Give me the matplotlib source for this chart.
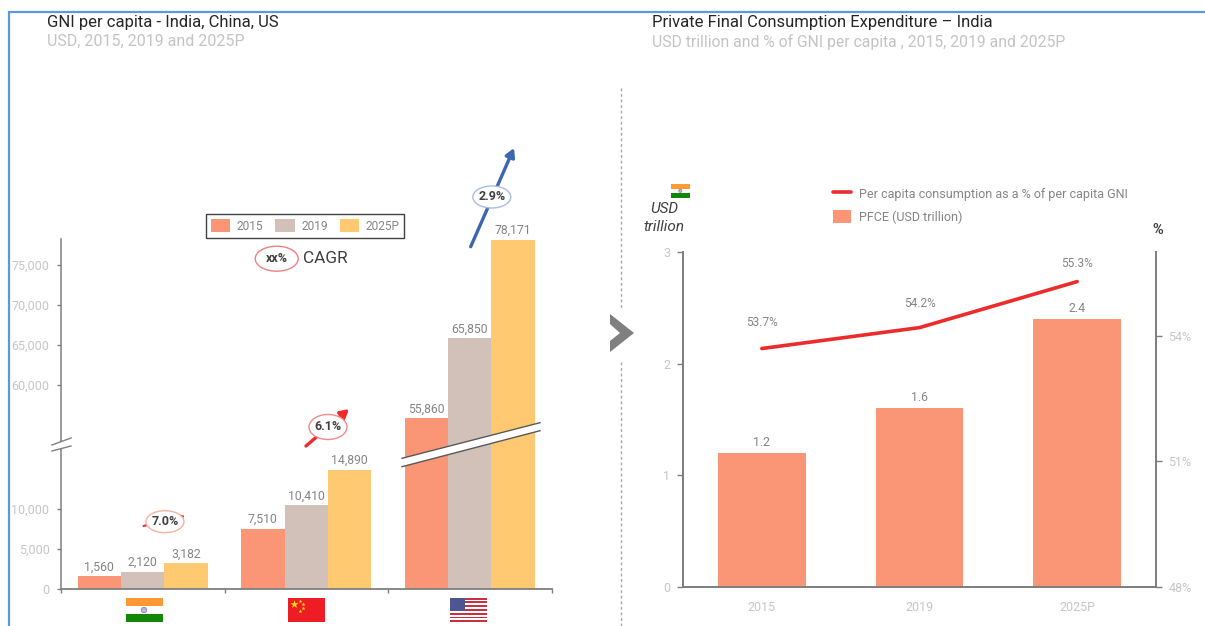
import matplotlib
matplotlib.use('Agg')
import matplotlib.pyplot as plt
from matplotlib.patches import Ellipse, Polygon, Rectangle, Circle

plt.rcParams['font.family'] = ['Roboto', 'DejaVu Sans']

W, H = 1205, 626

# left chart
countries = ['India', 'China', 'US']
years = ['2015', '2019', '2025P']
gni_2015 = [1560, 7510, 55860]
gni_2019 = [2120, 10410, 65850]
gni_2025 = [3182, 14890, 78171]
low_ticks = [0, 5000, 10000]
high_ticks = [60000, 65000, 70000, 75000]

# right chart
pfce_years = ['2015', '2019', '2025P']
pfce = [1.2, 1.6, 2.4]
share = [53.7, 54.2, 55.3]
pfce_ticks = [0, 1, 2, 3]
share_ticks = [48, 51, 54]

SALMON = '#fa9575'
TAUPE = '#d1c1b8'
GOLD = '#ffc971'
RED = '#ee2b2b'
BLUE = '#3c66b1'
AXIS = '#7f7f7f'
TICK = '#c6c6c6'
LABEL = '#858585'


def px_axes(left, top, right, bottom):
    return fig.add_axes([left / W, 1 - bottom / H, (right - left) / W, (bottom - top) / H])


fig = plt.figure(figsize=(W / 100, H / 100), dpi=100, facecolor='white')

# ---- left chart, broken y axis made of two stacked axes
ax_low = px_axes(61, 441, 551.5, 588.7)
ax_high = px_axes(61, 239, 551.5, 441)
ax_low.set_ylim(0, 18460)
ax_high.set_ylim(53000, 78250)

width = 0.265
series = [gni_2015, gni_2019, gni_2025]
colors = [SALMON, TAUPE, GOLD]
handles = []
for i, vals in enumerate(series):
    xs = [k + (i - 1) * width for k in range(len(countries))]
    bars = ax_low.bar(xs, vals, width, color=colors[i], label=years[i])
    handles.append(bars)
    ax_low.bar_label(bars, labels=[f'{v:,}' if v < 20000 else '' for v in vals],
                     padding=2, fontsize=8.8, color=LABEL)
    bars = ax_high.bar(xs, vals, width, color=colors[i])
    ax_high.bar_label(bars, labels=[f'{v:,}' if v > 20000 else '' for v in vals],
                      padding=2, fontsize=8.8, color=LABEL)

for ax in (ax_low, ax_high):
    ax.set_xlim(-0.5, 2.5)
    ax.patch.set_alpha(0)
    ax.spines[['top', 'right']].set_visible(False)
    ax.spines['left'].set_color(AXIS)
    ax.spines['left'].set_linewidth(1.1)
    ax.tick_params(axis='y', length=3, width=1, color=AXIS, labelcolor=TICK, labelsize=9, pad=5.3)
ax_high.spines['bottom'].set_visible(False)
ax_high.set_xticks([])
ax_high.set_yticks(high_ticks)
ax_high.set_yticklabels([f'{t:,}' for t in high_ticks])
ax_low.set_yticks(low_ticks)
ax_low.set_yticklabels([f'{t:,}' for t in low_ticks])
ax_low.set_xticks([-0.5, 0.5, 1.5, 2.5])
ax_low.set_xticklabels([])
ax_low.spines['bottom'].set_color(AXIS)
ax_low.spines['bottom'].set_linewidth(1.3)
ax_low.tick_params(axis='x', length=3, width=1, color=AXIS)

fig.legend(handles=handles, labels=years, loc='center', bbox_to_anchor=(305.3 / W, 1 - 226 / H),
           ncol=3, frameon=True, fancybox=False, edgecolor='#404040', framealpha=1,
           fontsize=8.6, labelcolor=LABEL, handlelength=1.6, handleheight=1.25,
           columnspacing=1.0, handletextpad=0.55, borderpad=0.42, borderaxespad=0)
fig.legends[0].get_frame().set_linewidth(1)

# ---- right chart
ax_r = px_axes(683, 252.3, 1156, 587)
bars = ax_r.bar(range(3), pfce, 0.555, color=SALMON, label='PFCE (USD trillion)')
ax_r.bar_label(bars, labels=[f'{v:.1f}' for v in pfce], padding=3, fontsize=8.8, color=LABEL)
ax_r.set_xlim(-0.5, 2.5)
ax_r.set_ylim(0, 3)
ax_r.set_yticks(pfce_ticks)
ax_r.set_xticks(range(3))
ax_r.set_xticklabels(pfce_years)
ax_r.tick_params(axis='y', length=4, width=1, color=AXIS, labelcolor=TICK, labelsize=9, pad=5)
ax_r.tick_params(axis='x', length=0, labelcolor=TICK, labelsize=9, pad=10)

ax_s = ax_r.twinx()
line, = ax_s.plot(range(3), share, color=RED, lw=2.6, solid_capstyle='round',
                  label='Per capita consumption as a % of per capita GNI')
ax_s.set_ylim(48, 56)
ax_s.set_yticks(share_ticks)
ax_s.set_yticklabels([f'{t}%' for t in share_ticks])
ax_s.tick_params(axis='y', length=4, width=1, color=AXIS, labelcolor=TICK, labelsize=9, pad=5)
share_offsets = [19, 17.5, 13]
for k, v in enumerate(share):
    ax_s.annotate(f'{v}%', (k, v), xytext=(0, share_offsets[k]), textcoords='offset points',
                  ha='center', va='center', fontsize=8.6, color=LABEL)
for ax in (ax_r, ax_s):
    ax.spines['top'].set_visible(False)
    for side in ('left', 'right', 'bottom'):
        ax.spines[side].set_color(AXIS)
        ax.spines[side].set_linewidth(1.3)

fig.legend(handles=[line, bars], labels=[line.get_label(), bars.get_label()], loc='upper left',
           bbox_to_anchor=(833 / W, 1 - 187 / H), frameon=False, fontsize=9, labelcolor=LABEL,
           handlelength=1.45, handleheight=1.25, handletextpad=0.6, labelspacing=0.75,
           borderpad=0, borderaxespad=0)

# ---- overlay in pixel coordinates for titles, flags, arrows and the frame
ov = fig.add_axes([0, 0, 1, 1], zorder=10)
ov.set_xlim(0, W)
ov.set_ylim(H, 0)
ov.axis('off')
ov.patch.set_alpha(0)

ov.plot([8.5, 8.5, W], [H, 11.5, 11.5], color='#5b9bd5', lw=1.6, solid_joinstyle='miter')

ov.text(47, 22, 'GNI per capita - India, China, US', fontsize=12, color='#262626', va='center')
ov.text(47, 41.5, 'USD, 2015, 2019 and 2025P', fontsize=11.5, color='#c4c4c4', va='center')
ov.text(652, 22, 'Private Final Consumption Expenditure – India', fontsize=12, color='#262626', va='center')
ov.text(652, 41.5, 'USD trillion and % of GNI per capita , 2015, 2019 and 2025P', fontsize=11.3,
        color='#c4c4c4', va='center')

# divider and chevron
ov.plot([621, 621], [88, 310], color='#a6a6a6', lw=1, ls=(0, (2, 2)))
ov.plot([621, 621], [362, H], color='#a6a6a6', lw=1, ls=(0, (2, 2)))
ov.add_patch(Polygon([(610, 314), (634, 333), (610, 352), (610, 341), (620, 333), (610, 324)],
                     closed=True, color='#7f7f7f', lw=0))

# axis break on the y axis
ov.add_patch(Polygon([(52, 445), (71, 438), (71, 446), (52, 451)], closed=True, color='white', lw=0))
ov.plot([52, 71], [445, 438], color=AXIS, lw=1)
ov.plot([52, 71], [451, 446], color=AXIS, lw=1)

# axis break across the US bars
ov.add_patch(Polygon([(402, 458.3), (540, 422.7), (540, 430.7), (402, 466.7)], closed=True,
                     color='white', lw=0))
ov.plot([402, 540], [458.3, 422.7], color='#595959', lw=1)
ov.plot([402, 540], [466.7, 430.7], color='#595959', lw=1)


def arrow(x0, y0, x1, y1, color, lw=2.4):
    ov.annotate('', xy=(x1, y1), xytext=(x0, y0), zorder=3,
                arrowprops=dict(arrowstyle='-|>,head_width=0.28,head_length=0.5', color=color, lw=lw,
                                shrinkA=0, shrinkB=0))


def bubble(cx, cy, w, h, edge, text, size=9):
    ov.add_patch(Ellipse((cx, cy), w, h, facecolor='white', edgecolor=edge, lw=1, zorder=5))
    ov.text(cx, cy, text, ha='center', va='center', fontsize=size, fontweight='bold',
            color='#404040', zorder=6)


arrow(470.7, 246.7, 514, 148, BLUE)
bubble(491.8, 197, 38, 22, '#a9bde3', '2.9%')
arrow(306, 446, 349, 409, RED)
bubble(328, 427, 38, 25, '#f28a8a', '6.1%')
arrow(143.5, 526, 185, 516, RED, lw=1.5)
bubble(165, 521.7, 38, 22, '#f7b3a0', '7.0%')
bubble(276.7, 258.7, 43, 25, '#f08080', 'xx%')
ov.text(303.5, 258.7, 'CAGR', fontsize=12.4, color='#404040', va='center')


def flag_india(x, y, w, h):
    ov.add_patch(Rectangle((x, y), w, h / 3, color='#ff9933', lw=0))
    ov.add_patch(Rectangle((x, y + 2 * h / 3), w, h / 3, color='#138808', lw=0))
    ov.add_patch(Circle((x + w / 2, y + h / 2), h / 9, facecolor='#b9bce0', edgecolor='#7f83c0', lw=0.6))


def flag_china(x, y, w, h):
    ov.add_patch(Rectangle((x, y), w, h, color='#ee1c25', lw=0))
    ov.scatter([x + w * 0.17], [y + h * 0.27], marker='*', s=38, color='#ffde00', lw=0)
    ov.scatter([x + w * f for f in (0.33, 0.42, 0.42, 0.33)],
               [y + h * f for f in (0.12, 0.25, 0.42, 0.55)],
               marker='*', s=9, color='#ffde00', lw=0)


def flag_us(x, y, w, h):
    ov.add_patch(Rectangle((x, y), w, h, color='white', lw=0))
    for i in range(0, 13, 2):
        ov.add_patch(Rectangle((x, y + i * h / 13), w, h / 13, color='#c8313e', lw=0))
    ov.add_patch(Rectangle((x, y), w * 0.4, h * 7 / 13, color='#4f5590', lw=0))


flag_india(125.5, 598, 37, 24)
flag_china(288, 597.7, 36.5, 24.5)
flag_us(450, 597.7, 37, 24.5)
flag_india(670.6, 184, 19.4, 13.7)

ov.text(664.4, 209, 'USD', fontsize=11, style='italic', color='#404040', ha='center', va='center')
ov.text(664.4, 227, 'trillion', fontsize=11, style='italic', color='#404040', ha='center', va='center')
ov.text(1157.5, 230, '%', fontsize=10.5, fontweight='bold', color='#404040', ha='center', va='center')

fig.savefig('out.png', dpi=100)
